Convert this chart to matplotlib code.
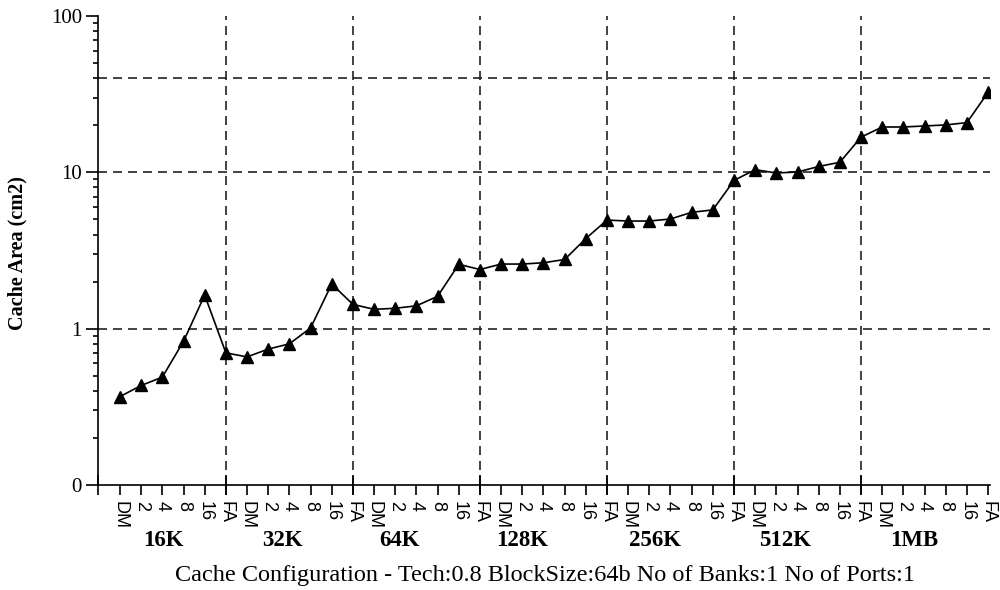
import matplotlib
matplotlib.use("Agg")
import matplotlib.pyplot as plt
from matplotlib.ticker import FixedLocator, LogLocator, NullFormatter, FixedFormatter
from matplotlib.transforms import blended_transform_factory
import numpy as np

# ---- data ----
groups = ["16K", "32K", "64K", "128K", "256K", "512K", "1MB"]
assoc = ["DM", "2", "4", "8", "16", "FA"]
area_16K = [0.368, 0.433, 0.49, 0.83, 1.64, 0.70]
area_32K = [0.66, 0.74, 0.80, 1.01, 1.93, 1.43]
area_64K = [1.33, 1.35, 1.40, 1.61, 2.58, 2.39]
area_128K = [2.59, 2.59, 2.64, 2.77, 3.77, 4.95]
area_256K = [4.88, 4.88, 5.03, 5.55, 5.75, 8.88]
area_512K = [10.4, 9.9, 10.05, 10.9, 11.6, 16.8]
area_1MB = [19.5, 19.5, 19.8, 20.1, 20.8, 32.5]
ytick_values = [0.1, 1, 10, 100]
ytick_labels = ["0", "1", "10", "100"]
ref_lines = [1, 10, 40]

# ---- layout ----
group_label_x = [2.05, 7.65, 13.2, 19.0, 25.25, 31.4, 37.5]
SERIF = "Liberation Serif"
SANS = "Liberation Sans"

values = area_16K + area_32K + area_64K + area_128K + area_256K + area_512K + area_1MB
labels = assoc * len(groups)
x = np.arange(len(values))
n = len(assoc)
fa_pos = [g * n + n - 1 for g in range(len(groups) - 1)]

fig = plt.figure(figsize=(10, 5.9), dpi=100)
ax = fig.add_axes([0.098, 1 - 485 / 590, 0.892, (485 - 16) / 590])

xmin, xmax = -1.039, 41.09
ax.set_xlim(xmin, xmax)
ax.set_yscale("log")
ax.set_ylim(0.1, 100)

dash = (0, (5.4, 3.6))
for v in ref_lines:
    ax.axhline(v, color="#222222", lw=1.2, ls=dash, zorder=1)
for p in fa_pos:
    ax.axvline(p, color="#222222", lw=1.2, ls=dash, zorder=1)

ax.plot(x, values, color="black", lw=1.2, marker="^", ms=8, zorder=3)

for s in ["top", "right"]:
    ax.spines[s].set_visible(False)
for s in ["left", "bottom"]:
    ax.spines[s].set_linewidth(1.2)

# y axis
ax.yaxis.set_major_locator(FixedLocator(ytick_values))
ax.yaxis.set_major_formatter(FixedFormatter(ytick_labels))
ax.yaxis.set_minor_locator(LogLocator(base=10, subs=np.arange(2, 10)))
ax.yaxis.set_minor_formatter(NullFormatter())
ax.tick_params(axis="y", which="major", length=8.6, width=1.2, direction="out", pad=3)
ax.tick_params(axis="y", which="minor", length=3.6, width=1.2, direction="out")
for t in ax.get_yticklabels():
    t.set_fontfamily(SERIF)
    t.set_fontsize(15)

# x axis
ax.xaxis.remove_overlapping_locs = False
ax.xaxis.set_major_locator(FixedLocator([xmin] + fa_pos))
ax.xaxis.set_major_formatter(NullFormatter())
ax.xaxis.set_minor_locator(FixedLocator(x))
ax.xaxis.set_minor_formatter(FixedFormatter(labels))
ax.tick_params(axis="x", which="major", length=14.4, width=1.2, direction="inout")
ax.tick_params(axis="x", which="minor", length=7.2, width=1.2, direction="out", pad=4)
for t in ax.xaxis.get_minorticklabels():
    t.set_fontfamily(SANS)
    t.set_fontsize(13)
    t.set_rotation(-90)
    t.set_va("top")
    t.set_ha("center")

tr = blended_transform_factory(ax.transData, fig.transFigure)
for gx, g in zip(group_label_x, groups):
    ax.text(gx, 1 - 541 / 590, g, transform=tr, ha="center", va="center",
            fontfamily=SERIF, fontweight="bold", fontsize=16.5)

fig.text(0.545, 1 - 576 / 590,
         "Cache Configuration - Tech:0.8 BlockSize:64b No of Banks:1 No of Ports:1",
         ha="center", va="center", fontfamily=SERIF, fontsize=17.5)
fig.text(0.017, 1 - 253 / 590, "Cache Area (cm2)", rotation=90, ha="center", va="center",
         fontfamily=SERIF, fontweight="bold", fontsize=14.5)

fig.savefig("out.png", dpi=100)
